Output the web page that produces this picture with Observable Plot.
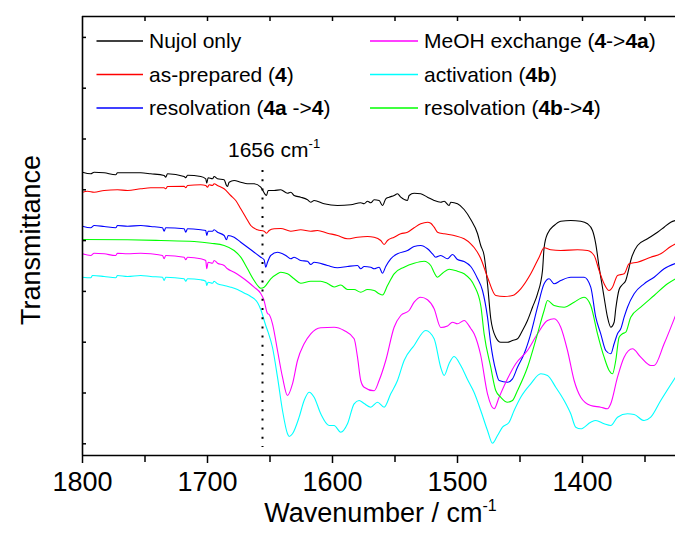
<!DOCTYPE html>
<html>
<head>
<meta charset="utf-8">
<script src="https://cdn.jsdelivr.net/npm/d3@7"></script>
<script src="https://cdn.jsdelivr.net/npm/@observablehq/plot@0.6"></script>
<style>
  html, body { margin: 0; padding: 0; background: #fff; }
  #chart svg { display: block; }
</style>
</head>
<body>
<div id="chart"></div>
<script>
// IR spectra (Nujol mulls), 1800–1325 cm⁻¹, curves offset vertically (arbitrary units)
// Each entry: [wavenumber / cm-1, transmittance (a.u.)]
const nujolOnly = [[1800,283.3],[1793.4,281.7],[1790.7,283.3],[1782.7,282.7],[1773.4,280.7],[1772.0,282.7],[1764.0,282.7],[1753.4,282.7],[1745.4,281.7],[1734.7,280],[1733.4,278.3],[1732.0,281.7],[1718.7,279],[1717.4,277.7],[1716.0,280.3],[1705.4,279],[1701.4,276.7],[1700.6,272.3],[1699.5,277.7],[1696.0,276.7],[1694.7,279],[1692.0,276.7],[1686.7,275.7],[1684.8,270],[1684.0,269],[1682.7,273.3],[1678.7,275],[1673.4,273.3],[1668.0,271.7],[1662.7,271.7],[1657.4,268.3],[1654.2,261.7],[1652.8,260],[1651.5,265],[1646.7,265],[1641.4,265.7],[1636.0,262.3],[1633.4,263.3],[1630.7,260],[1625.4,258.3],[1620.0,255.7],[1617.4,253.3],[1614.7,255],[1606.7,251.7],[1596.0,250],[1585.4,250.7],[1577.4,252.7],[1574.7,251.7],[1572.0,254.3],[1569.4,252.7],[1566.7,255.7],[1562.7,255],[1560.0,250],[1557.4,256.7],[1554.7,258.3],[1550.7,260],[1548.0,261.7],[1545.4,258.3],[1540.0,255],[1538.7,260],[1534.7,262.3],[1529.4,261.7],[1524.0,258.3],[1518.7,255],[1513.4,253.3],[1510.7,254.3],[1506.7,250],[1505.4,253.3],[1500.0,251.7],[1494.7,246],[1489.4,236],[1484.0,222],[1481.4,210],[1478.7,200],[1476.0,171.7],[1473.4,137],[1469.4,118.3],[1465.4,113.3],[1460.0,113.3],[1456.0,115],[1452.0,116.7],[1448.0,125],[1444.0,135],[1440.0,148.3],[1436.0,161.7],[1432.0,185],[1430.7,208],[1428.0,221.7],[1422.7,230],[1417.4,234.3],[1409.4,235],[1401.4,234.3],[1396.0,231.7],[1392.0,225],[1389.4,211.7],[1386.7,188.3],[1384.0,168],[1382.7,158],[1380.0,138.3],[1377.4,128.3],[1374.7,133.3],[1373.4,146.7],[1370.7,166],[1368.0,171],[1365.4,175],[1362.7,188],[1361.4,195],[1356.0,210],[1348.0,216.7],[1340.0,223.3],[1334.7,228.3],[1329.4,233.3],[1325.6,235]];

const asPrepared = [[1800,263.3],[1796.0,264.3],[1790.7,263.3],[1782.7,265],[1772.0,265.7],[1764.0,265],[1753.4,266.7],[1745.4,267.7],[1734.7,267.7],[1733.4,266.7],[1732.0,269],[1718.7,269.3],[1717.4,267.7],[1716.0,270],[1705.4,270.7],[1701.4,270],[1700.0,268.3],[1698.7,270.7],[1696.0,270],[1694.7,271.7],[1692.0,270],[1686.7,266.7],[1681.4,260],[1677.4,255],[1673.4,246.7],[1669.4,238.3],[1665.4,230],[1660.0,225.7],[1654.7,224.3],[1652.8,222.3],[1650.7,225],[1646.7,226.7],[1641.4,227],[1633.4,224.3],[1625.4,225.7],[1617.4,224.3],[1612.0,225],[1604.0,222.3],[1596.0,220],[1588.0,216.7],[1580.0,218.3],[1572.0,219],[1566.7,218.3],[1561.4,215],[1558.7,211],[1556.0,215],[1550.7,218.3],[1545.4,221.7],[1540.0,223.3],[1534.7,227.7],[1529.4,231.7],[1524.0,233.3],[1521.4,232.3],[1518.7,228.3],[1516.0,223.3],[1510.7,221.7],[1502.7,220],[1494.7,216.7],[1489.4,211.7],[1486.7,208],[1481.4,197],[1476.0,178.3],[1469.4,160],[1462.7,159],[1456.0,160],[1449.4,166.7],[1441.4,181.7],[1434.7,198.3],[1430.7,207.7],[1425.4,205.7],[1417.4,205],[1404.0,205.7],[1396.0,205],[1390.7,200],[1386.7,185],[1382.7,171.7],[1378.7,165],[1376.0,168.3],[1372.0,180],[1366.7,181.7],[1362.7,191.7],[1356.0,193.3],[1345.4,198.3],[1337.4,201.7],[1329.4,209],[1325.6,211.7]];

const resolvation4a = [[1800,229.3],[1793.4,227.7],[1790.7,230],[1782.7,229],[1773.4,227.7],[1772.0,230],[1764.0,229.3],[1753.4,230],[1745.4,229],[1736.0,227.7],[1734.7,224.3],[1733.4,227.7],[1718.7,226.7],[1717.4,223.3],[1716.0,226.7],[1705.4,225.7],[1701.4,225],[1700.6,220],[1699.5,224.3],[1696.0,224.3],[1694.7,225.7],[1692.0,223.3],[1686.7,220],[1684.8,215.7],[1683.5,220],[1678.7,218.3],[1673.4,213.3],[1668.0,208.3],[1662.7,203.3],[1657.4,198.3],[1654.7,195.7],[1653.4,188.3],[1652.0,193.3],[1649.4,200],[1644.0,203.3],[1637.4,200],[1633.4,196.7],[1630.7,198.3],[1625.4,195],[1620.0,194.3],[1617.4,191],[1614.7,193.3],[1604.0,190],[1596.0,187.7],[1588.0,189],[1580.0,190],[1577.4,186.7],[1574.7,189],[1569.4,188.3],[1566.7,186.7],[1562.7,188.3],[1560.0,182.3],[1557.4,189],[1553.4,196.7],[1548.0,201.7],[1540.0,205],[1534.7,209],[1529.4,210],[1524.0,206.7],[1520.0,201.7],[1517.4,198.3],[1513.4,200],[1508.0,196.7],[1504.0,201],[1500.0,196],[1494.7,194],[1489.4,189],[1484.0,177],[1480.0,165],[1476.0,138.3],[1473.4,111.7],[1469.4,85],[1466.7,75],[1460.0,73.3],[1456.0,76.7],[1452.0,88.3],[1446.7,101.7],[1441.4,121.7],[1436.0,148.3],[1430.7,171.7],[1426.7,176.7],[1422.7,171.7],[1417.4,175],[1409.4,178.3],[1398.7,178.3],[1393.4,168.3],[1389.4,138.3],[1385.4,121.7],[1381.4,105],[1377.4,101.7],[1374.7,111.7],[1372.0,121.7],[1369.4,126.7],[1366.7,138.3],[1364.0,148.3],[1358.7,161.7],[1350.7,171.7],[1342.7,178.3],[1334.7,186.7],[1325.6,192]];

const resolvation4b = [[1800,216],[1764.0,215.7],[1737.4,215],[1710.7,214],[1697.4,212.3],[1686.7,210],[1678.7,205],[1673.4,198.3],[1668.0,186.7],[1662.7,175],[1658.7,168.3],[1657.4,167.3],[1654.7,168.3],[1649.4,176.7],[1644.0,181.7],[1641.4,183.3],[1636.0,181.7],[1630.7,176.7],[1625.4,172.3],[1617.4,174.3],[1609.4,174.3],[1604.0,172],[1598.7,168.5],[1593.4,170.5],[1588.0,166],[1582.7,166],[1577.4,163.3],[1572.0,166],[1566.7,165],[1562.7,161.7],[1560.0,160.5],[1556.0,170],[1550.7,181.7],[1542.7,188.3],[1534.7,192.3],[1526.7,194.3],[1521.4,190],[1518.7,183],[1516.0,178.3],[1512.0,182.3],[1506.7,186.3],[1500.0,184.3],[1494.7,181.7],[1486.7,170],[1481.4,150],[1478.7,121.7],[1473.4,88.3],[1469.4,65],[1465.4,58.3],[1460.0,53.3],[1456.0,55],[1452.0,65],[1444.0,88.3],[1436.0,121.7],[1430.7,145],[1428.0,155],[1422.7,150],[1414.7,148.3],[1406.7,153.3],[1398.7,158.3],[1393.4,150],[1388.0,121.7],[1382.7,98.3],[1378.7,85],[1376.0,81.7],[1373.4,95],[1370.7,118.3],[1368.0,121.7],[1365.4,123.3],[1361.4,138.3],[1353.4,148.3],[1342.7,160],[1332.0,171.7],[1325.6,176.7]];

const meohExchange = [[1800,201.7],[1793.4,200],[1790.7,202.3],[1782.7,201.7],[1773.4,200],[1772.0,202.3],[1764.0,201.7],[1753.4,202.3],[1745.4,201.7],[1736.0,200],[1734.7,196.7],[1733.4,200],[1718.7,198.3],[1717.4,195.7],[1716.0,198.3],[1705.4,196.7],[1701.4,195],[1700.6,186.7],[1699.5,193.3],[1696.0,192.3],[1694.7,195],[1692.0,192.3],[1686.7,190],[1684.0,186.7],[1678.7,183.3],[1673.4,179],[1668.0,174],[1662.7,168.3],[1657.4,162],[1655.0,156],[1652.0,142],[1650.7,141],[1648.0,131.7],[1644.0,105],[1640.0,78.3],[1636.0,60],[1632.0,71.7],[1628.0,95],[1622.7,111.7],[1617.4,121.7],[1609.4,127.7],[1598.7,128.3],[1590.7,125],[1582.7,116.7],[1580.0,98.3],[1577.4,75],[1574.7,68.3],[1566.7,64.7],[1562.7,75],[1557.4,95],[1550.7,128.3],[1545.4,140],[1538.7,145],[1534.7,153.3],[1529.4,158.3],[1524.0,155.7],[1518.7,146.7],[1513.4,128],[1508.0,129.5],[1504.0,133.3],[1500.0,131.7],[1494.7,135],[1489.4,127],[1486.7,121.7],[1481.4,100],[1476.0,61.7],[1470.7,46.7],[1466.7,58.3],[1460.0,76.7],[1453.4,91.7],[1444.0,105],[1436.0,121.7],[1428.0,135],[1422.7,136.7],[1417.4,128.3],[1412.0,105],[1406.7,75],[1401.4,58.3],[1393.4,50],[1385.4,48.3],[1380.0,46.7],[1377.4,51.7],[1372.0,78.3],[1366.7,98.3],[1360.0,106.7],[1353.4,98.3],[1345.4,90],[1342.7,90],[1334.7,111.7],[1325.6,140]];

const activation4b = [[1800,178.3],[1793.4,177.7],[1792.0,180],[1782.7,179],[1773.4,177.7],[1772.0,180],[1764.0,179],[1753.4,180],[1745.4,179],[1736.0,178.3],[1734.7,175],[1733.4,178.3],[1718.7,176.7],[1717.4,174.3],[1716.0,176.7],[1705.4,175.7],[1701.4,174.3],[1700.6,170],[1699.5,173.3],[1696.0,172.3],[1694.7,174.3],[1692.0,171.7],[1686.7,170],[1681.4,168.3],[1676.0,166],[1670.7,162.5],[1665.4,159],[1660.0,153],[1657.4,146],[1653.4,130],[1651.5,123.3],[1648.0,108],[1644.0,78.3],[1640.0,45],[1636.0,21.7],[1634.7,19],[1632.0,21.7],[1626.7,38.3],[1622.7,55],[1618.7,63.3],[1614.7,58.3],[1609.4,41.7],[1602.7,30],[1598.7,30],[1593.4,23.3],[1588.0,31.7],[1582.7,51.7],[1578.7,55],[1574.7,52],[1569.4,48.3],[1564.0,53.3],[1558.7,48.3],[1553.4,61.7],[1548.0,75],[1542.7,95],[1534.7,110],[1525.4,125],[1518.7,116.7],[1513.4,88],[1510.7,80],[1506.7,92],[1502.7,99],[1497.4,90],[1492.0,76],[1486.7,63],[1481.4,45],[1476.0,25],[1472.0,12.3],[1468.0,20],[1464.0,28.3],[1458.7,33.3],[1454.7,45],[1449.4,58.3],[1441.4,71.7],[1433.4,81.7],[1428.0,80],[1421.4,68.3],[1414.7,55],[1409.4,41.7],[1405.4,28.3],[1401.4,26.7],[1393.4,33.3],[1389.4,35],[1382.7,31.7],[1377.4,30],[1372.0,38.3],[1364.0,41.7],[1358.7,41],[1350.7,35],[1345.4,38.3],[1337.4,55],[1325.6,78.3]];

// Axis ticks
const xMajorTicks = [1800, 1700, 1600, 1500, 1400];
const xMinorTicks = [1750, 1650, 1550, 1450, 1350];
const xTopTicks = [1750, 1700, 1650, 1600, 1550, 1500, 1450, 1400, 1350];
const yTicks = [11.7, 62.5, 113.3, 164.1, 214.9, 265.7, 316.5, 367.3, 418.1];
const markerWavenumber = 1656;

// Legend entries: text segments, bold flag per segment
const series = [
  {data: nujolOnly,     color: "#000000", label: [["Nujol only", false]]},
  {data: asPrepared,    color: "#ff0000", label: [["as-prepared (", false], ["4", true], [")", false]]},
  {data: resolvation4a, color: "#0000ff", label: [["resolvation (", false], ["4a", true], [" ->", false], ["4", true], [")", false]]},
  {data: meohExchange,  color: "#ff00ff", label: [["MeOH exchange (", false], ["4", true], ["->", false], ["4a", true], [")", false]]},
  {data: activation4b,  color: "#00ffff", label: [["activation (", false], ["4b", true], [")", false]]},
  {data: resolvation4b, color: "#00ff00", label: [["resolvation (", false], ["4b", true], ["->", false], ["4", true], [")", false]]}
];

const FONT = "'Liberation Sans', Arial, Helvetica, sans-serif";
const W = 675, H = 534;
const M = {top: 16, right: 0, bottom: 79, left: 82};
const frameW = W - M.left - M.right;
const frameH = H - M.top - M.bottom;
const xDomain = [1800, 1325.6];
const yDomain = [0, 439];
const axisStroke = 1.6;

const plot = Plot.plot({
  width: W,
  height: H,
  marginTop: M.top,
  marginRight: M.right,
  marginBottom: M.bottom,
  marginLeft: M.left,
  style: {fontFamily: FONT, fontSize: "27px", color: "#000", background: "#fff", overflow: "visible"},
  x: {domain: xDomain, ticks: xMajorTicks, tickFormat: d => String(d), tickSize: 0, tickPadding: 16.5, label: null},
  y: {domain: yDomain, axis: null},
  marks: [
    ...series.map(s => Plot.line(s.data, {
      x: d => d[0], y: d => d[1], stroke: s.color, strokeWidth: 1.1, curve: "monotone-x"
    })),
    // dotted marker line
    Plot.ruleX([markerWavenumber], {stroke: "#000", strokeWidth: 2, strokeDasharray: "2,7.2", insetTop: 154, insetBottom: 8}),
    // bottom ticks (outward)
    Plot.tickX(xMajorTicks, {x: d => d, stroke: "#000", strokeWidth: 1.5, insetTop: frameH, insetBottom: -8}),
    Plot.tickX(xMinorTicks, {x: d => d, stroke: "#000", strokeWidth: 1.5, insetTop: frameH, insetBottom: -7}),
    // top ticks (inward)
    Plot.tickX(xTopTicks, {x: d => d, stroke: "#000", strokeWidth: 1.5, insetBottom: frameH - 5}),
    // left ticks (inward)
    Plot.tickY(yTicks, {y: d => d, stroke: "#000", strokeWidth: 1.5, insetRight: frameW - 4}),
    // frame: left, bottom, top
    Plot.ruleX([xDomain[0]], {stroke: "#000", strokeWidth: axisStroke}),
    Plot.ruleY([yDomain[0]], {stroke: "#000", strokeWidth: axisStroke}),
    Plot.ruleY([yDomain[1]], {stroke: "#000", strokeWidth: axisStroke})
  ]
});

document.getElementById("chart").appendChild(plot);

const svg = d3.select(plot);
const xs = plot.scale("x");

function addSegments(text, segments) {
  segments.forEach(([t, bold]) => {
    text.append("tspan").attr("font-weight", bold ? "bold" : "normal").text(t);
  });
}

// x-axis title with superscript
const xTitle = svg.append("text")
  .attr("x", M.left + frameW / 2 + 2)
  .attr("y", 522)
  .attr("text-anchor", "middle")
  .attr("font-family", FONT)
  .attr("font-size", 27)
  .attr("fill", "#000");
xTitle.append("tspan").text("Wavenumber / cm");
xTitle.append("tspan").attr("font-size", 16).attr("dy", -11).text("-1");

// y-axis title
svg.append("text")
  .attr("transform", `translate(40,${M.top + 224}) rotate(-90)`)
  .attr("text-anchor", "middle")
  .attr("font-family", FONT)
  .attr("font-size", 27)
  .attr("fill", "#000")
  .text("Transmittance");

// marker label
const mLabel = svg.append("text")
  .attr("x", xs.apply(markerWavenumber) - 34)
  .attr("y", 157)
  .attr("text-anchor", "start")
  .attr("font-family", FONT)
  .attr("font-size", 21)
  .attr("fill", "#000");
mLabel.append("tspan").text(`${markerWavenumber} cm`);
mLabel.append("tspan").attr("font-size", 13).attr("dy", -9).text("-1");

// legend: two columns of three rows
const legendCols = [{x0: 96.5, x1: 143, tx: 149}, {x0: 370, x1: 418, tx: 424}];
const legendRows = [41, 74.5, 108];
const legend = svg.append("g")
  .attr("font-family", FONT)
  .attr("font-size", 21)
  .attr("text-anchor", "start")
  .attr("fill", "#000");
series.forEach((s, i) => {
  const col = legendCols[Math.floor(i / 3)];
  const y = legendRows[i % 3];
  legend.append("line")
    .attr("x1", col.x0).attr("x2", col.x1)
    .attr("y1", y).attr("y2", y)
    .attr("stroke", s.color).attr("stroke-width", 1.3);
  const t = legend.append("text")
    .attr("x", col.tx).attr("y", y + 7)
    .style("white-space", "pre");
  addSegments(t, s.label);
});
</script>
</body>
</html>
